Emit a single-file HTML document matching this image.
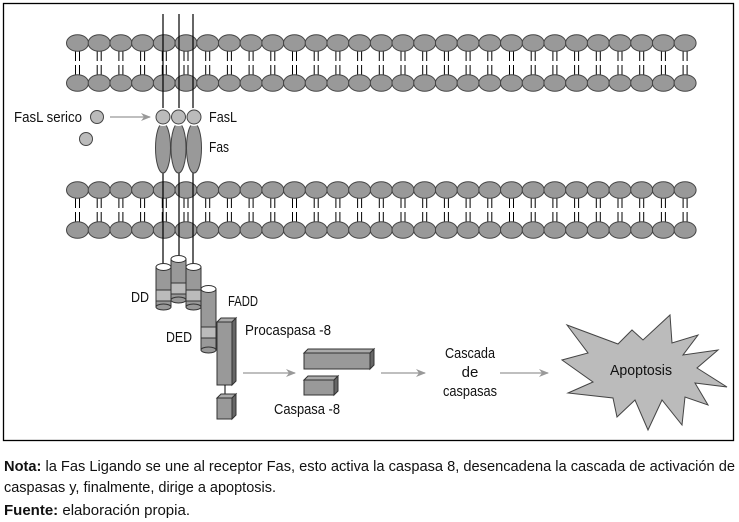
<!DOCTYPE html>
<html><head><meta charset="utf-8"><style>
html,body{margin:0;padding:0;background:#fff;}
svg{display:block;font-family:"Liberation Sans",sans-serif;}
</style></head><body>
<svg width="739" height="522" viewBox="0 0 739 522" xmlns="http://www.w3.org/2000/svg">
<defs>
<marker id="ar" markerWidth="10" markerHeight="8" refX="9" refY="4" orient="auto" markerUnits="userSpaceOnUse">
<path d="M0,0 L10,4 L0,8 L3,4 Z" fill="#999"/></marker>
<g id="lip">
<line x1="-2" y1="50" x2="-2" y2="61" stroke="#000" stroke-width="1"/>
<line x1="2" y1="50" x2="2" y2="61" stroke="#000" stroke-width="1"/>
<line x1="-2" y1="65" x2="-2" y2="76" stroke="#000" stroke-width="1"/>
<line x1="2" y1="65" x2="2" y2="76" stroke="#000" stroke-width="1"/>
<ellipse cx="0" cy="43" rx="11" ry="8.3" fill="#999" stroke="#444" stroke-width="1"/>
<ellipse cx="0" cy="83" rx="11" ry="8.3" fill="#999" stroke="#444" stroke-width="1"/>
</g>
</defs>
<rect x="3.5" y="3.5" width="730" height="437" fill="none" stroke="#000" stroke-width="1.3"/>
<g id="mem1">
<use href="#lip" x="77.5"/><use href="#lip" x="99.2"/><use href="#lip" x="120.9"/><use href="#lip" x="142.6"/><use href="#lip" x="164.3"/><use href="#lip" x="186"/><use href="#lip" x="207.7"/><use href="#lip" x="229.4"/><use href="#lip" x="251.1"/><use href="#lip" x="272.8"/><use href="#lip" x="294.5"/><use href="#lip" x="316.2"/><use href="#lip" x="337.9"/><use href="#lip" x="359.6"/><use href="#lip" x="381.3"/><use href="#lip" x="403"/><use href="#lip" x="424.7"/><use href="#lip" x="446.4"/><use href="#lip" x="468.1"/><use href="#lip" x="489.8"/><use href="#lip" x="511.5"/><use href="#lip" x="533.2"/><use href="#lip" x="554.9"/><use href="#lip" x="576.6"/><use href="#lip" x="598.3"/><use href="#lip" x="620"/><use href="#lip" x="641.7"/><use href="#lip" x="663.4"/><use href="#lip" x="685.1"/>
</g>
<use href="#mem1" y="147"/>
<g stroke="#000" stroke-width="1.2">
<line x1="163" y1="14" x2="163" y2="267"/>
<line x1="179" y1="14" x2="179" y2="259"/>
<line x1="193" y1="14" x2="193" y2="267"/>
</g>
<g fill="#999" stroke="#444" stroke-width="1">
<ellipse cx="163" cy="148" rx="7.5" ry="25"/>
<ellipse cx="178.5" cy="148" rx="7.5" ry="25"/>
<ellipse cx="194" cy="148" rx="7.5" ry="25"/>
</g>
<g fill="#bbb" stroke="#fff" stroke-width="3">
<circle cx="163" cy="117" r="7.5"/><circle cx="178.5" cy="117" r="7.5"/><circle cx="194" cy="117" r="7.5"/>
</g>
<g fill="#bbb" stroke="#444" stroke-width="1">
<circle cx="163" cy="117" r="7"/><circle cx="178.5" cy="117" r="7"/><circle cx="194" cy="117" r="7"/>
<circle cx="97" cy="117" r="6.5"/><circle cx="86" cy="139" r="6.5"/>
</g>
<line x1="110" y1="117" x2="150" y2="117" stroke="#999" stroke-width="1.2" marker-end="url(#ar)"/>
<g font-size="15" fill="#111">
<text x="14" y="122" textLength="68" lengthAdjust="spacingAndGlyphs">FasL serico</text>
<text x="209" y="122" textLength="28" lengthAdjust="spacingAndGlyphs">FasL</text>
<text x="209" y="152" textLength="20" lengthAdjust="spacingAndGlyphs">Fas</text>
<text x="131" y="302" textLength="18" lengthAdjust="spacingAndGlyphs">DD</text>
<text x="228" y="306" textLength="30" lengthAdjust="spacingAndGlyphs">FADD</text>
<text x="166" y="342" textLength="26" lengthAdjust="spacingAndGlyphs">DED</text>
<text x="245" y="335" textLength="86" lengthAdjust="spacingAndGlyphs">Procaspasa -8</text>
<text x="274" y="414" textLength="66" lengthAdjust="spacingAndGlyphs">Caspasa -8</text>
<text x="470" y="358" text-anchor="middle" textLength="50" lengthAdjust="spacingAndGlyphs">Cascada</text>
<text x="470" y="377" text-anchor="middle">de</text>
<text x="470" y="396" text-anchor="middle" textLength="54" lengthAdjust="spacingAndGlyphs">caspasas</text>
</g>
<g stroke="#333" stroke-width="1">
<g>
<rect x="156" y="267" width="15" height="40" fill="#999"/>
<rect x="156" y="290" width="15" height="11" fill="#bbb"/>
<ellipse cx="163.5" cy="307" rx="7.5" ry="3" fill="#999"/>
<ellipse cx="163.5" cy="267" rx="7.5" ry="3.5" fill="#fff"/>
</g>
<g>
<rect x="171" y="259" width="15" height="41" fill="#999"/>
<rect x="171" y="283" width="15" height="11" fill="#bbb"/>
<ellipse cx="178.5" cy="300" rx="7.5" ry="3" fill="#999"/>
<ellipse cx="178.5" cy="259" rx="7.5" ry="3.5" fill="#fff"/>
</g>
<g>
<rect x="186" y="267" width="15" height="40" fill="#999"/>
<rect x="186" y="290" width="15" height="11" fill="#bbb"/>
<ellipse cx="193.5" cy="307" rx="7.5" ry="3" fill="#999"/>
<ellipse cx="193.5" cy="267" rx="7.5" ry="3.5" fill="#fff"/>
</g>
<g>
<rect x="201" y="289" width="15" height="61" fill="#999"/>
<rect x="201" y="327" width="15" height="11" fill="#bbb"/>
<ellipse cx="208.5" cy="350" rx="7.5" ry="3" fill="#999"/>
<ellipse cx="208.5" cy="289" rx="7.5" ry="3.5" fill="#fff"/>
</g>
<polygon points="217,322 221,318 236,318 232,322" fill="#aaa"/>
<polygon points="232,322 236,318 236,381 232,385" fill="#666"/>
<rect x="217" y="322" width="15" height="63" fill="#999"/>
<line x1="225" y1="385" x2="225" y2="398" stroke="#000"/>
<polygon points="217,398 221,394 236,394 232,398" fill="#aaa"/>
<polygon points="232,398 236,394 236,415 232,419" fill="#666"/>
<rect x="217" y="398" width="15" height="21" fill="#999"/>
<polygon points="304,353 308,349 374,349 370,353" fill="#aaa"/>
<polygon points="370,353 374,349 374,365 370,369" fill="#666"/>
<rect x="304" y="353" width="66" height="16" fill="#999"/>
<polygon points="304,380 308,376 338,376 334,380" fill="#aaa"/>
<polygon points="334,380 338,376 338,391 334,395" fill="#666"/>
<rect x="304" y="380" width="30" height="15" fill="#999"/>
</g>
<g stroke="#999" stroke-width="1.2">
<line x1="243" y1="373" x2="295" y2="373" marker-end="url(#ar)"/>
<line x1="381" y1="373" x2="425" y2="373" marker-end="url(#ar)"/>
<line x1="500" y1="373" x2="548" y2="373" marker-end="url(#ar)"/>
</g>
<polygon points="567,325 618,344 632,330 643,340 670,315 672,343 698,335 683,355 718,350 697,368 727,387 695,383 708,405 685,397 682,425 662,400 648,430 635,400 617,417 613,398 568,393 593,382 562,360 588,353" fill="#bbb" stroke="#444" stroke-width="1"/>
<text x="641" y="375" font-size="15" text-anchor="middle" fill="#111" textLength="62" lengthAdjust="spacingAndGlyphs">Apoptosis</text>
<g font-size="15" fill="#111">
<text x="4" y="471" textLength="731" lengthAdjust="spacingAndGlyphs"><tspan font-weight="bold">Nota:</tspan> la Fas Ligando se une al receptor Fas, esto activa la caspasa 8, desencadena la cascada de activación de</text>
<text x="4" y="492" textLength="272" lengthAdjust="spacingAndGlyphs">caspasas y, finalmente, dirige a apoptosis.</text>
<text x="4" y="515" textLength="186" lengthAdjust="spacingAndGlyphs"><tspan font-weight="bold">Fuente:</tspan> elaboración propia.</text>
</g>
</svg>
</body></html>
